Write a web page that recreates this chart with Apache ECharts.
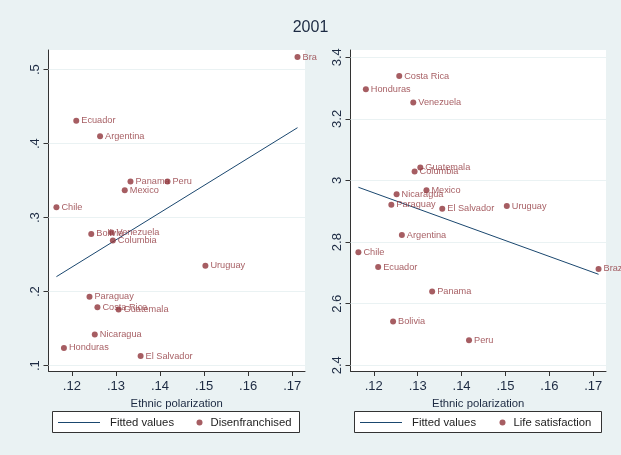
<!DOCTYPE html>
<html>
<head>
<meta charset="utf-8">
<script src="https://cdn.jsdelivr.net/npm/echarts@6/dist/echarts.min.js"></script>
<style>
  html, body { margin: 0; padding: 0; background: #EAF2F3; }
  #chart { width: 621px; height: 455px; }
</style>
</head>
<body>
<div id="chart"></div>
<script>
// Latin American countries, 2001
const countries = ['Argentina', 'Bolivia', 'Brazil', 'Chile', 'Columbia', 'Costa Rica', 'Ecuador',
  'El Salvador', 'Guatemala', 'Honduras', 'Mexico', 'Nicaragua', 'Panama', 'Paraguay', 'Peru',
  'Uruguay', 'Venezuela'];
const polarization = [0.1264, 0.1244, 0.1712, 0.1165, 0.1293, 0.1258, 0.1210,
  0.1356, 0.1306, 0.1182, 0.1320, 0.1252, 0.1333, 0.1240, 0.1417,
  0.1503, 0.1290];
const disenfranchised = [0.410, 0.278, 0.517, 0.314, 0.269, 0.179, 0.431,
  0.113, 0.176, 0.124, 0.337, 0.142, 0.349, 0.193, 0.349,
  0.235, 0.280];
const lifeSatisfaction = [2.823, 2.542, 2.713, 2.767, 3.029, 3.339, 2.719,
  2.908, 3.042, 3.296, 2.968, 2.955, 2.640, 2.921, 2.481,
  2.917, 3.253];

// Linear fit end points over the observed polarization range
const fitX = [0.1165, 0.1712];
const fitDisenfranchised = [0.2203, 0.4216];
const fitLifeSatisfaction = [2.978, 2.6955];

// Tick labels
const xTicks = [0.12, 0.13, 0.14, 0.15, 0.16, 0.17];
const yTicksLeft = [0.1, 0.2, 0.3, 0.4, 0.5];
const yTicksRight = [2.4, 2.6, 2.8, 3.0, 3.2, 3.4];

const FONT = "'Liberation Sans', Arial, sans-serif";
const TEXT = '#1c2a42';
const NAVY = '#1A476F';
const MAROON = '#90353B';
const BG = '#EAF2F3';

const noLead = v => String(+v.toFixed(2)).replace(/^0\./, '.');

function xAxis(gridIndex) {
  return {
    type: 'value', gridIndex, min: 0.1147, max: 0.1729,
    name: 'Ethnic polarization', nameLocation: 'middle', nameGap: 23,
    nameTextStyle: { fontFamily: FONT, fontSize: 11.3, color: TEXT },
    axisLine: { onZero: false, lineStyle: { color: '#333', width: 1 } },
    axisTick: { show: true, length: 5, customValues: xTicks, lineStyle: { color: '#333' } },
    axisLabel: { customValues: xTicks, margin: 9, fontFamily: FONT, fontSize: 13, color: TEXT, formatter: noLead },
    splitLine: { show: false }
  };
}
function yAxis(gridIndex, min, max, ticks) {
  return {
    type: 'value', gridIndex, min, max,
    axisLine: { show: true, onZero: false, lineStyle: { color: '#333', width: 1 } },
    axisTick: { show: true, length: 5, customValues: ticks, lineStyle: { color: '#333' } },
    axisLabel: { customValues: ticks, rotate: 90, margin: 7, fontFamily: FONT, fontSize: 13, color: TEXT, formatter: noLead },
    splitLine: { show: false }
  };
}

function points(values, brazilWidth) {
  return countries.map((c, i) => {
    const item = { name: c, value: [polarization[i], values[i]] };
    if (brazilWidth && c === 'Brazil') {
      item.label = { width: brazilWidth, overflow: 'truncate', ellipsis: '' };
    }
    return item;
  });
}

function gridLines(ticks) {
  return {
    silent: true, symbol: ['none', 'none'], animation: false, z: 1,
    label: { show: false },
    lineStyle: { color: BG, type: 'solid', width: 1 },
    data: ticks.map(v => ({ yAxis: v }))
  };
}

function scatter(name, idx, values, ticks, brazilWidth) {
  return {
    name, type: 'scatter', xAxisIndex: idx, yAxisIndex: idx,
    data: points(values, brazilWidth),
    symbol: 'circle', symbolSize: 6,
    itemStyle: { color: MAROON },
    label: {
      show: true, position: 'right', distance: 2,
      formatter: p => p.name,
      fontFamily: FONT, fontSize: 9.2, color: MAROON
    },
    markLine: gridLines(ticks),
    z: 3
  };
}

function fit(idx, ys) {
  return {
    name: 'Fitted values', type: 'line', xAxisIndex: idx, yAxisIndex: idx,
    data: fitX.map((x, i) => [x, ys[i]]),
    symbol: 'none', lineStyle: { color: NAVY, width: 1 }, itemStyle: { color: NAVY },
    z: 2
  };
}

function legendPair(lineLeft, dotLeft, dotName) {
  const common = {
    orient: 'horizontal', padding: 0, top: 417, itemHeight: 12,
    textStyle: { fontFamily: FONT, fontSize: 11.3, color: '#222' },
    selectedMode: false
  };
  return [
    Object.assign({}, common, { left: lineLeft, itemWidth: 42,
      textStyle: Object.assign({}, common.textStyle, { padding: [0, 0, 0, 5] }),
      data: [{ name: 'Fitted values', icon: 'path://M0 0H42V1H0Z' }] }),
    Object.assign({}, common, { left: dotLeft, itemWidth: 6,
      textStyle: Object.assign({}, common.textStyle, { padding: [0, 0, 0, 3] }),
      data: [{ name: dotName, icon: 'circle' }] })
  ];
}

const chart = echarts.init(document.getElementById('chart'));
chart.setOption({
  animation: false,
  backgroundColor: BG,
  title: {
    text: '2001', left: 'center', top: 20, padding: 0,
    textStyle: { fontFamily: FONT, fontSize: 16, fontWeight: 'normal', color: TEXT }
  },
  grid: [
    { left: 48.5, right: 316, top: 50, bottom: 84, show: true, backgroundColor: '#fff', borderWidth: 0 },
    { left: 350.5, right: 15, top: 50, bottom: 84, show: true, backgroundColor: '#fff', borderWidth: 0 }
  ],
  xAxis: [xAxis(0), xAxis(1)],
  yAxis: [yAxis(0, 0.0928, 0.5266, yTicksLeft), yAxis(1, 2.3815, 3.4237, yTicksRight)],
  legend: legendPair(58, 196.5, 'Disenfranchised').concat(legendPair(360, 499.5, 'Life satisfaction')),
  graphic: [
    { type: 'rect', z: 0, shape: { x: 52.5, y: 411.5, width: 247, height: 21 },
      style: { fill: '#fff', stroke: '#333', lineWidth: 1 } },
    { type: 'rect', z: 0, shape: { x: 354.5, y: 411.5, width: 247, height: 21 },
      style: { fill: '#fff', stroke: '#333', lineWidth: 1 } }
  ],
  series: [
    fit(0, fitDisenfranchised),
    scatter('Disenfranchised', 0, disenfranchised, yTicksLeft, 18),
    fit(1, fitLifeSatisfaction),
    scatter('Life satisfaction', 1, lifeSatisfaction, yTicksRight, null)
  ]
});
</script>
</body>
</html>
